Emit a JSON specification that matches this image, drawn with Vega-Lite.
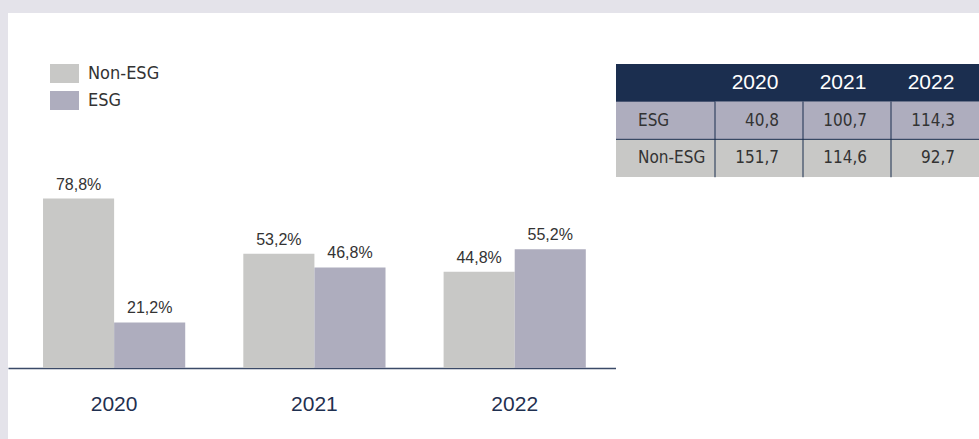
{
  "$schema": "https://vega.github.io/schema/vega-lite/v6.json",
  "background": "#e4e3ea",
  "padding": {"left": 8, "top": 13, "right": 0, "bottom": 0},
  "spacing": 0,
  "bounds": "flush",
  "datasets": {
    "shares": [
      {"year": "2020", "series": "Non-ESG", "share": 0.788},
      {"year": "2020", "series": "ESG", "share": 0.212},
      {"year": "2021", "series": "Non-ESG", "share": 0.532},
      {"year": "2021", "series": "ESG", "share": 0.468},
      {"year": "2022", "series": "Non-ESG", "share": 0.448},
      {"year": "2022", "series": "ESG", "share": 0.552}
    ],
    "table": [
      {"row": "ESG", "year": "2020", "value": 40.8},
      {"row": "ESG", "year": "2021", "value": 100.7},
      {"row": "ESG", "year": "2022", "value": 114.3},
      {"row": "Non-ESG", "year": "2020", "value": 151.7},
      {"row": "Non-ESG", "year": "2021", "value": 114.6},
      {"row": "Non-ESG", "year": "2022", "value": 92.7}
    ]
  },
  "config": {
    "locale": {"number": {"decimal": ",", "thousands": ".", "grouping": [3], "currency": ["", " €"]}},
    "view": {"fill": "white", "stroke": null},
    "font": "Liberation Sans"
  },
  "hconcat": [
    {
      "width": 608,
      "height": 426,
      "data": {"name": "shares"},
      "encoding": {
        "x": {
          "field": "year", "type": "nominal", "sort": ["2020", "2021", "2022"],
          "scale": {"paddingInner": 0.29, "paddingOuter": 0.1628, "align": 0.537},
          "axis": {
            "title": null, "orient": "bottom", "offset": -71, "ticks": false, "tickSize": 0,
            "labelPadding": 25, "labelAngle": 0, "labelFont": "Liberation Sans", "labelFontSize": 21,
            "labelColor": "#1f3050", "domainColor": "#3b4a68", "domainWidth": 1.5, "grid": false
          }
        },
        "xOffset": {"field": "series", "type": "nominal", "sort": ["Non-ESG", "ESG"], "scale": {"paddingInner": 0, "paddingOuter": 0}},
        "y": {"field": "share", "type": "quantitative", "scale": {"domain": [-0.33, 1.651], "nice": false}, "axis": null}
      },
      "layer": [
        {
          "mark": {"type": "bar"},
          "encoding": {
            "y2": {"datum": 0},
            "color": {
              "field": "series", "type": "nominal",
              "scale": {"domain": ["Non-ESG", "ESG"], "range": ["#c8c8c6", "#aeadbe"]},
              "legend": {
                "title": null, "orient": "none", "legendX": 42, "legendY": 46, "direction": "vertical",
                "symbolType": "M-1,-0.655L1,-0.655L1,0.655L-1,0.655Z", "symbolSize": 841,
                "symbolStrokeWidth": 0, "symbolOpacity": 1,
                "labelFont": "DejaVu Sans Condensed, Liberation Sans, sans-serif", "labelFontSize": 18,
                "labelColor": "#333333", "labelOffset": 9, "rowPadding": 3, "padding": 0, "labelLimit": 200
              }
            }
          }
        },
        {
          "mark": {"type": "text", "baseline": "alphabetic", "dy": -9, "font": "Liberation Sans", "fontSize": 16, "color": "#333333"},
          "encoding": {"text": {"field": "share", "type": "quantitative", "format": ".1%"}}
        }
      ]
    },
    {
      "width": 99,
      "height": 426,
      "data": {"name": "table"},
      "transform": [{"filter": "datum.year === '2020'"}],
      "encoding": {
        "y": {"field": "row", "type": "nominal", "scale": {"domain": ["header", "ESG", "Non-ESG"], "range": [51, 164], "paddingInner": 0, "paddingOuter": 0}, "axis": null}
      },
      "layer": [
        {"mark": {"type": "rect", "color": "#1b2e4f"}, "encoding": {"y": {"datum": "header", "type": "nominal"}}},
        {"transform": [{"filter": "datum.row === 'ESG'"}], "mark": {"type": "rect", "color": "#aeadbe"}},
        {"transform": [{"filter": "datum.row === 'Non-ESG'"}], "mark": {"type": "rect", "color": "#c8c8c6"}},
        {"transform": [{"filter": "datum.row === 'Non-ESG'"}], "mark": {"type": "rule", "color": "#1b2e4f", "strokeWidth": 1}, "encoding": {"y": {"field": "row", "type": "nominal", "bandPosition": 0}}},
        {
          "mark": {"type": "text", "align": "left", "dx": -27.5, "font": "DejaVu Sans Condensed, Liberation Sans, sans-serif", "fontSize": 17, "color": "#333333"},
          "encoding": {"text": {"field": "row", "type": "nominal"}}
        }
      ]
    },
    {
      "width": 264,
      "height": 426,
      "data": {"name": "table"},
      "encoding": {
        "y": {"field": "row", "type": "nominal", "scale": {"domain": ["header", "ESG", "Non-ESG"], "range": [51, 164], "paddingInner": 0, "paddingOuter": 0}, "axis": null}
      },
      "layer": [
        {
          "transform": [{"filter": "datum.row === 'ESG'"}],
          "mark": {"type": "rect", "color": "#1b2e4f"},
          "encoding": {
            "x": {"field": "year", "type": "nominal", "sort": ["2020", "2021", "2022"], "scale": {"paddingInner": 0, "paddingOuter": 0}, "axis": null},
            "y": {"datum": "header", "type": "nominal"}
          }
        },
        {
          "transform": [{"filter": "datum.row === 'ESG'"}],
          "mark": {"type": "rect", "color": "#aeadbe"},
          "encoding": {"x": {"field": "year", "type": "nominal", "axis": null}}
        },
        {
          "transform": [{"filter": "datum.row === 'Non-ESG'"}],
          "mark": {"type": "rect", "color": "#c8c8c6"},
          "encoding": {"x": {"field": "year", "type": "nominal", "axis": null}}
        },
        {
          "transform": [{"filter": "datum.row === 'Non-ESG' && datum.year === '2020'"}],
          "mark": {"type": "rule", "color": "#1b2e4f", "strokeWidth": 1},
          "encoding": {"y": {"field": "row", "type": "nominal", "bandPosition": 0}}
        },
        {
          "mark": {"type": "tick", "orient": "vertical", "thickness": 1, "size": 38, "color": "#1b2e4f", "opacity": 1},
          "encoding": {"x": {"field": "year", "type": "nominal", "bandPosition": 0, "axis": null}}
        },
        {
          "transform": [{"filter": "datum.row === 'ESG'"}],
          "mark": {"type": "text", "align": "center", "dx": -4, "font": "Liberation Sans", "fontSize": 21, "color": "white"},
          "encoding": {
            "x": {"field": "year", "type": "nominal", "axis": null},
            "y": {"datum": "header", "type": "nominal"},
            "text": {"field": "year", "type": "nominal"}
          }
        },
        {
          "mark": {"type": "text", "align": "right", "dx": -24, "font": "DejaVu Sans Condensed, Liberation Sans, sans-serif", "fontSize": 17, "color": "#333333"},
          "encoding": {
            "x": {"field": "year", "type": "nominal", "bandPosition": 1, "axis": null},
            "text": {"field": "value", "type": "quantitative", "format": ".1f"}
          }
        }
      ]
    }
  ]
}
